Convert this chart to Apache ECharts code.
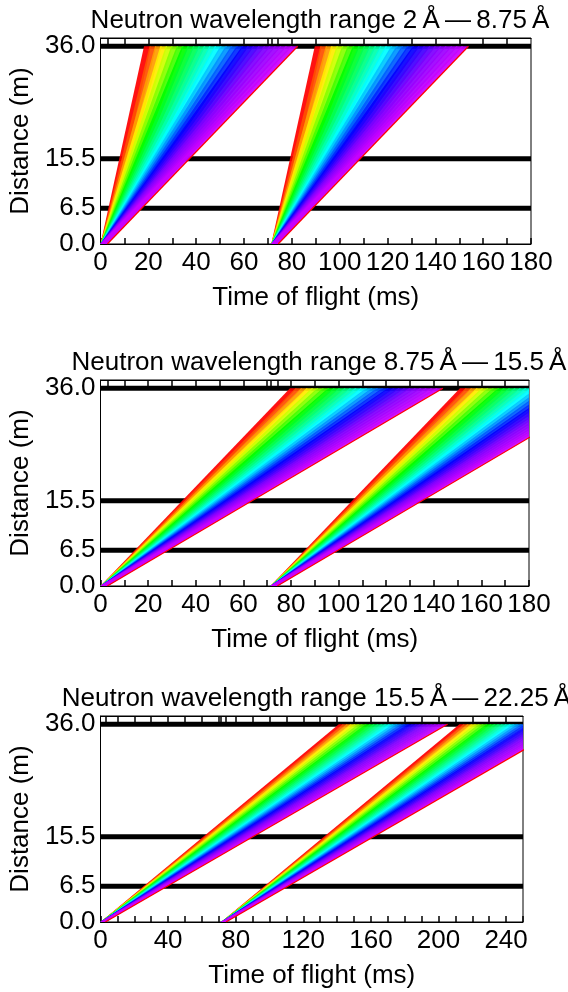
<!DOCTYPE html>
<html>
<head>
<meta charset="utf-8">
<script src="https://cdn.jsdelivr.net/npm/echarts@6/dist/echarts.min.js"></script>
<style>
  html, body { margin: 0; padding: 0; background: #fff; }
  #chart { width: 568px; height: 992px; }
</style>
</head>
<body>
<div id="chart"></div>
<script>
// source pulses (ms) and pulse length
var pulseStarts = [0, 71.4];
var pulseWidth = 2.86;
// chopper / detector positions (m)
var chopperDistances = [6.5, 15.5, 36];
var yLabelValues = [0, 6.5, 15.5, 36];

// leading-edge arrival time at 36 m for each wavelength band (ms)
var arrivals1 = [18.2, 20.5, 22.8, 25.0, 27.3, 29.6, 31.9, 34.1, 36.4, 38.7, 41.0, 43.2, 45.5, 47.8,
                 50.1, 52.3, 54.6, 56.9, 59.2, 61.4, 63.7, 66.0, 68.3, 70.5, 72.8, 75.1, 77.4, 79.6];
var arrivals2 = [79.6, 81.9, 84.2, 86.5, 88.7, 91.0, 93.3, 95.6, 97.8, 100.1, 102.4, 104.7, 106.9, 109.2,
                 111.5, 113.8, 116.0, 118.3, 120.6, 122.9, 125.1, 127.4, 129.7, 132.0, 134.2, 136.5, 138.8, 141.0];
var arrivals3 = [141.0, 143.3, 145.6, 147.9, 150.2, 152.4, 154.7, 157.0, 159.3, 161.5, 163.8, 166.1, 168.4, 170.6,
                 172.9, 175.2, 177.5, 179.7, 182.0, 184.3, 186.6, 188.8, 191.1, 193.4, 195.7, 197.9, 200.2, 202.5];

var panelTitles = [
  'Neutron wavelength range 2\u2009Å\u2009—\u20098.75\u2009Å',
  'Neutron wavelength range 8.75\u2009Å\u2009—\u200915.5\u2009Å',
  'Neutron wavelength range 15.5\u2009Å\u2009—\u200922.25\u2009Å'
];
var xMaxes = [180, 180, 250];
var xLabelSteps = [20, 20, 40];
var panelArrivals = [arrivals1, arrivals2, arrivals3];

// layout
var grids = [
  { left: 99, top: 38, width: 432, height: 206 },
  { left: 99, top: 380, width: 430, height: 206 },
  { left: 100, top: 716, width: 423, height: 206 }
];
var FONT = 'Liberation Sans';
var FS = 26;

// rainbow palette (red -> violet)
var stops = [[0, [255, 0, 0]], [0.12, [255, 255, 0]], [0.26, [0, 255, 0]], [0.48, [0, 255, 255]],
             [0.66, [0, 0, 255]], [0.82, [128, 0, 255]], [1, [200, 0, 255]]];
function rainbow(f) {
  for (var k = 1; k < stops.length; k++) {
    if (f <= stops[k][0]) {
      var a = stops[k - 1], b = stops[k];
      var u = (f - a[0]) / (b[0] - a[0]);
      var c = a[1].map(function (v, j) { return Math.round(v + (b[1][j] - v) * u); });
      return 'rgb(' + c.join(',') + ')';
    }
  }
  return 'rgb(200,0,255)';
}

function clipRect(params) {
  var cs = params.coordSys;
  return { type: 'rect', shape: { x: cs.x, y: cs.y, width: cs.width, height: cs.height } };
}

function fanRender(t0, n) {
  return function (params, api) {
    var T = api.value(0);
    var pts = [
      api.coord([t0, 0]),
      api.coord([t0 + pulseWidth, 0]),
      api.coord([t0 + pulseWidth + T, 36]),
      api.coord([t0 + T, 36])
    ];
    return {
      type: 'group',
      clipPath: clipRect(params),
      children: [{
        type: 'polygon',
        shape: { points: pts },
        style: { fill: rainbow(params.dataIndex / (n - 1)), opacity: 0.93 }
      }]
    };
  };
}

function chopperRender(params, api) {
  var cs = params.coordSys;
  var y = api.coord([0, api.value(0)])[1];
  return {
    type: 'line',
    shape: { x1: cs.x, y1: y, x2: cs.x + cs.width, y2: y },
    style: { stroke: '#000', lineWidth: 5 }
  };
}

var option = { animation: false, title: [], grid: [], xAxis: [], yAxis: [], series: [] };

grids.forEach(function (g, i) {
  option.grid.push({
    left: g.left, top: g.top, width: g.width, height: g.height,
    show: true, borderColor: '#000', borderWidth: 1, backgroundColor: 'transparent'
  });
  option.title.push({
    text: panelTitles[i],
    left: g.left + g.width / 2,
    top: g.top - 35,
    textAlign: 'center',
    textStyle: { fontFamily: FONT, fontSize: FS, fontWeight: 'normal', color: '#000' }
  });

  var topTicks = [pulseWidth];
  pulseStarts.forEach(function (p) { if (p > 0) { topTicks.push(p, p + pulseWidth); } });
  for (var t = 10; t < xMaxes[i]; t += 10) topTicks.push(t);

  option.xAxis.push({
    gridIndex: i, type: 'value', min: 0, max: xMaxes[i], interval: 10,
    axisLine: { lineStyle: { color: '#000', width: 1 } },
    axisTick: { inside: true, length: 6, lineStyle: { color: '#000', width: 1.5 } },
    axisLabel: {
      fontFamily: FONT, fontSize: FS, color: '#000', margin: 6,
      formatter: (function (step) { return function (v) { return v % step === 0 ? String(v) : ''; }; })(xLabelSteps[i])
    },
    splitLine: { show: false },
    name: 'Time of flight (ms)', nameLocation: 'middle', nameGap: 41,
    nameTextStyle: { fontFamily: FONT, fontSize: FS, color: '#000' }
  });
  option.xAxis.push({
    gridIndex: i, type: 'value', position: 'top', min: 0, max: xMaxes[i],
    axisLine: { lineStyle: { color: '#000', width: 1 } },
    axisTick: { inside: true, length: 6, customValues: topTicks, lineStyle: { color: '#000', width: 1.5 } },
    axisLabel: { show: false },
    splitLine: { show: false }
  });
  option.yAxis.push({
    gridIndex: i, type: 'value', min: 0, max: 37.5,
    axisLine: { lineStyle: { color: '#000', width: 1 } },
    axisTick: { inside: true, length: 5, customValues: [6.5, 15.5], lineStyle: { color: '#000', width: 1.5 } },
    axisLabel: {
      customValues: yLabelValues, fontFamily: FONT, fontSize: FS, color: '#000', margin: 5,
      formatter: function (v) { return Number(v).toFixed(1); }
    },
    splitLine: { show: false },
    name: 'Distance (m)', nameLocation: 'middle', nameGap: 62, nameRotate: 90,
    nameTextStyle: { fontFamily: FONT, fontSize: FS, color: '#000' }
  });

  option.series.push({
    type: 'custom', xAxisIndex: 2 * i, yAxisIndex: i, z: 1, silent: true,
    renderItem: chopperRender,
    data: chopperDistances.map(function (d) { return [d]; })
  });

  var arr = panelArrivals[i];
  pulseStarts.forEach(function (t0) {
    option.series.push({
      type: 'custom', xAxisIndex: 2 * i, yAxisIndex: i, z: 2, silent: true, clip: true,
      renderItem: fanRender(t0, arr.length),
      data: arr.map(function (v) { return [v]; })
    });
    option.series.push({
      type: 'line', xAxisIndex: 2 * i, yAxisIndex: i, z: 3, silent: true, clip: true,
      symbol: 'none',
      lineStyle: { color: '#ff0000', width: 1.2 },
      data: [[t0 + pulseWidth, 0], [t0 + pulseWidth + arr[arr.length - 1], 36]]
    });
  });
});

echarts.init(document.getElementById('chart')).setOption(option);
</script>
</body>
</html>
